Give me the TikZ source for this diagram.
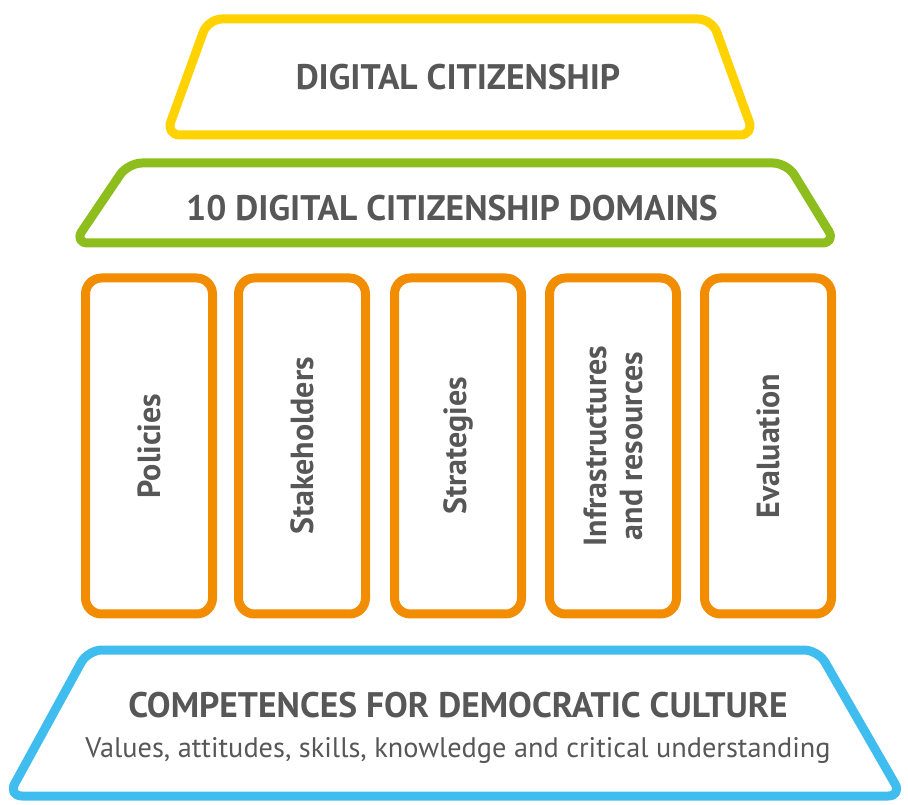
\documentclass[tikz,border=0pt]{standalone}
\usepackage{fontspec}
\setmainfont{PT Sans}
\usetikzlibrary{positioning}

\definecolor{dcyellow}{HTML}{FFD200}
\definecolor{dcgreen}{HTML}{8DBE1E}
\definecolor{dcorange}{HTML}{F28C00}
\definecolor{dcblue}{HTML}{40BDEF}
\definecolor{dcgray}{HTML}{575757}

\tikzset{
  tier/.style={line width=9pt, rounded corners=14pt, line join=round},
  heading/.style={text=dcgray, font=\fontsize{35.5}{38}\selectfont\bfseries},
  pillar/.style={draw=dcorange, line width=9pt, rounded corners=16pt,
                 minimum width=336pt, minimum height=127pt, rotate=90,
                 text=dcgray, align=center,
                 font=\fontsize{32}{36}\selectfont\bfseries}
}

\begin{document}
\begin{tikzpicture}[x=1pt, y=1pt]
\useasboundingbox (0,0) rectangle (908,804);
% roof
\draw[tier, draw=dcyellow] (208,785) -- (712,785) -- (754,669) -- (166,669) -- cycle;
\node[heading] (roof) at (458,727) {DIGITAL CITIZENSHIP};
% domains
\draw[tier, draw=dcgreen] (128,641) -- (787,641) -- (836,561) -- (74,561) -- cycle;
\node[heading] (domains) at (452,596) {10 DIGITAL CITIZENSHIP DOMAINS};
% pillars
\node[pillar] (p1) at (149,358) {Policies};
\node[pillar] (p2) at (302,358) {Stakeholders};
\node[pillar] (p3) at (458,358) {Strategies};
\node[pillar] (p4) at (613,358) {Infrastructures\\and resources};
\node[pillar] (p5) at (768,358) {Evaluation};
% base
\draw[tier, draw=dcblue] (88,154) -- (818,154) -- (902,8) -- (8,8) -- cycle;
\node[heading] (cdc) at (458,99) {COMPETENCES FOR DEMOCRATIC CULTURE};
\node[text=dcgray, font=\fontsize{28.3}{32}\selectfont] (cdcsub) at (458,54)
  {Values, attitudes, skills, knowledge and critical understanding};
\end{tikzpicture}
\end{document}
